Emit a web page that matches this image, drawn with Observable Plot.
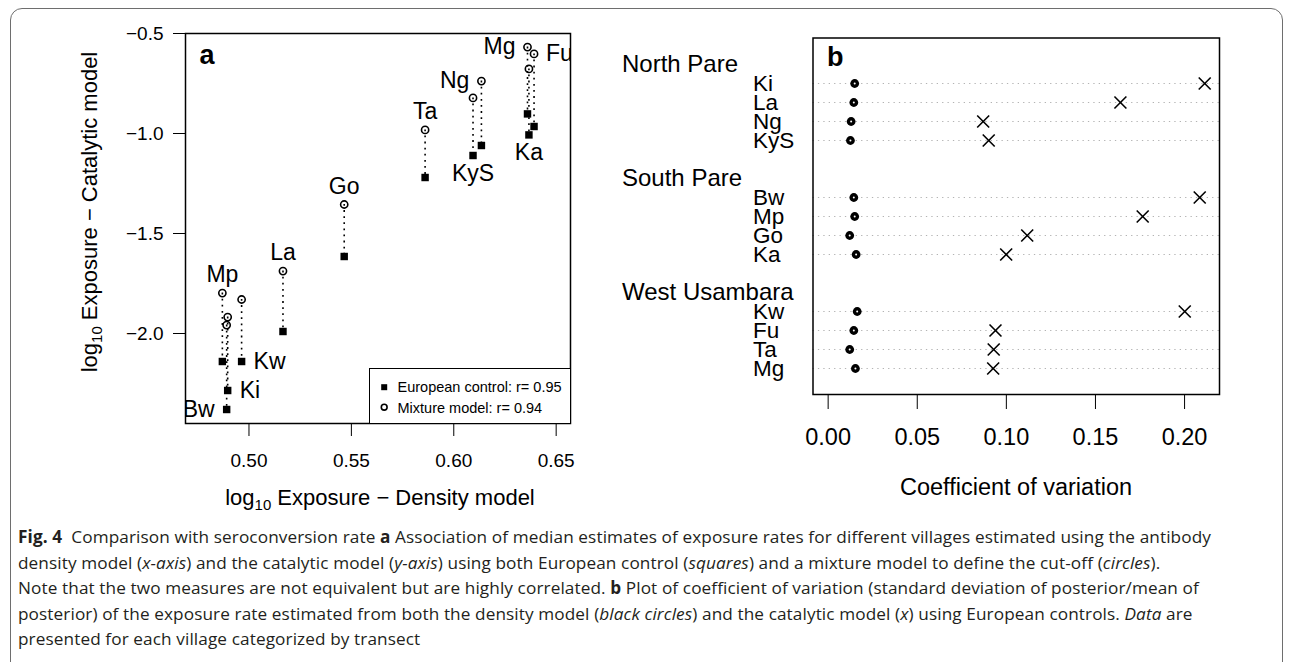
<!DOCTYPE html>
<html><head><meta charset="utf-8">
<script src="https://cdn.jsdelivr.net/npm/d3@7"></script>
<script src="https://cdn.jsdelivr.net/npm/@observablehq/plot@0.6"></script>
<style>
body{margin:0;background:#fff;}
#wrap{position:relative;width:1293px;height:662px;overflow:hidden;font-family:"Liberation Sans",Arial,sans-serif;color:#000;}
#border{position:absolute;left:10px;top:8px;width:1273px;height:760px;border:1.3px solid #6e6e6e;border-radius:12px;box-sizing:border-box;}
.abs{position:absolute;}
.title{position:absolute;white-space:nowrap;transform:translate(-50%,-50%);}
.title sub{font-size:0.68em;vertical-align:-0.35em;line-height:0;}
#legendA{box-sizing:border-box;border:1.5px solid #000;background:#fff;font-size:14.5px;}
#legendA .row{position:absolute;left:0;white-space:nowrap;height:20px;line-height:20px;}
#caption{position:absolute;left:18px;top:524px;width:1265px;font-family:"Open Sans","Noto Sans",sans-serif;font-size:17.2px;letter-spacing:0.1px;line-height:25.5px;color:#231f20;white-space:nowrap;}
</style></head>
<body>
<div id="wrap">
  <div id="border"></div>
  <div id="plotA" class="abs" style="left:0;top:0"></div>
  <div id="plotB" class="abs" style="left:600px;top:0"></div>
  <div id="legendA" class="abs" style="left:368.5px;top:367.5px;width:202px;height:56.5px"></div>
  <div class="title" style="left:90px;top:212px;font-size:22px;transform:translate(-50%,-50%) rotate(-90deg)">log<sub>10</sub> Exposure − Catalytic model</div>
  <div class="title" style="left:380px;top:498px;font-size:22px">log<sub>10</sub> Exposure − Density model</div>
  <div class="title" style="left:1016px;top:487px;font-size:23.5px">Coefficient of variation</div>
  <div id="caption"><b>Fig. 4</b>&nbsp; Comparison with seroconversion rate <b>a</b> Association of median estimates of exposure rates for different villages estimated using the antibody<br>density model (<i>x-axis</i>) and the catalytic model (<i>y-axis</i>) using both European control (<i>squares</i>) and a mixture model to define the cut-off (<i>circles</i>).<br>Note that the two measures are not equivalent but are highly correlated. <b>b</b> Plot of coefficient of variation (standard deviation of posterior/mean of<br>posterior) of the exposure rate estimated from both the density model (<i>black circles</i>) and the catalytic model (<i>x</i>) using European controls. <i>Data</i> are<br>presented for each village categorized by transect</div>
</div>
<script>
// ---------- Panel a data ----------
const villagesA = ["Mg","Fu","Ka","Ng","KyS","Ta","Go","La","Mp","Kw","Ki","Bw"];
const densityExposure = [0.636,0.6392,0.6367,0.6135,0.6094,0.586,0.5465,0.5166,0.487,0.4964,0.4896,0.4891];
const catalyticEuropean = [-0.902,-0.965,-1.007,-1.06,-1.11,-1.22,-1.615,-1.99,-2.14,-2.14,-2.285,-2.38];
const catalyticMixture = [-0.568,-0.602,-0.677,-0.738,-0.822,-0.982,-1.355,-1.688,-1.798,-1.83,-1.918,-1.958];
const labelSide = ["left","right","below","left","below","above","above","above","above","right","right","left"];
const labelAt = ["mixture","mixture","european","mixture","european","mixture","mixture","mixture","mixture","european","european","european"];
const xTicksA = [0.50,0.55,0.60,0.65];
const yTicksA = [-2.0,-1.5,-1.0,-0.5];
const legendLabelsA = ["European control: r= 0.95","Mixture model: r= 0.94"];

// ---------- Panel b data ----------
const transects = ["North Pare","South Pare","West Usambara"];
const villagesB = ["Ki","La","Ng","KyS","Bw","Mp","Go","Ka","Kw","Fu","Ta","Mg"];
const transectB = ["North Pare","North Pare","North Pare","North Pare","South Pare","South Pare","South Pare","South Pare","West Usambara","West Usambara","West Usambara","West Usambara"];
const cvDensity = [0.0149,0.0144,0.0129,0.0125,0.0144,0.0149,0.0121,0.0157,0.0163,0.0144,0.0121,0.0153];
const cvCatalytic = [0.2113,0.164,0.087,0.0901,0.2085,0.1765,0.1117,0.0999,0.2001,0.0939,0.0929,0.0926];
const xTicksB = [0.00,0.05,0.10,0.15,0.20];

const FONT = "Liberation Sans, Arial, sans-serif";

// ---------- Panel a ----------
const dataA = villagesA.map((v,i)=>({
  name:v, x:densityExposure[i], eur:catalyticEuropean[i], mix:catalyticMixture[i],
  side:labelSide[i], ly: labelAt[i]==="mixture" ? catalyticMixture[i] : catalyticEuropean[i]
}));
const lab = side => dataA.filter(d=>d.side===side);
const labelCommon = {x:"x", y:"ly", text:"name", fontSize:23, fill:"black", clip:true};

const plotA = Plot.plot({
  width:600, height:470,
  marginLeft:185, marginRight:30, marginTop:33, marginBottom:47,
  style:{fontFamily:FONT, fontSize:"19px", background:"transparent", color:"black"},
  x:{domain:[0.469,0.657], ticks:xTicksA, tickFormat:d3.format(".2f"), tickSize:13, tickPadding:17, label:null},
  y:{domain:[-2.45,-0.5], ticks:yTicksA, tickFormat:d3.format(".1f"), tickSize:12, tickPadding:10, label:null},
  marks:[
    Plot.ruleX(dataA,{x:"x", y1:"mix", y2:"eur", stroke:"black", strokeWidth:1.6, strokeDasharray:"1.8,4.3"}),
    Plot.dot(dataA,{x:"x", y:"eur", symbol:"square", r:4.2, fill:"black"}),
    Plot.dot(dataA,{x:"x", y:"mix", r:3.6, stroke:"black", strokeWidth:1.6, fill:"none"}),
    Plot.text(lab("left"),{...labelCommon, textAnchor:"end", dx:-12}),
    Plot.text(lab("right"),{...labelCommon, textAnchor:"start", dx:12}),
    Plot.text(lab("above"),{...labelCommon, textAnchor:"middle", lineAnchor:"bottom", dy:-11}),
    Plot.text(lab("below"),{...labelCommon, textAnchor:"middle", lineAnchor:"top", dy:9}),
    Plot.text(["a"],{frameAnchor:"top-left", text:d=>d, dx:14, dy:21.7, lineAnchor:"middle", textAnchor:"start", fontSize:27, fontWeight:"bold"}),
    Plot.frame({stroke:"black", strokeWidth:1.5})
  ]
});
document.getElementById("plotA").append(plotA);

// legend for panel a
const legend = document.getElementById("legendA");
legendLabelsA.forEach((t,i)=>{
  const row = document.createElement("div");
  row.className = "row";
  row.style.top = (i===0 ? 8.5 : 29) + "px";
  const sym = i===0
    ? '<rect x="3.2" y="3.2" width="6" height="6" fill="#000"/>'
    : '<circle cx="6.2" cy="6.2" r="2.9" fill="none" stroke="#000" stroke-width="1.6"/>';
  row.innerHTML = `<svg width="12.4" height="12.4" style="position:absolute;left:8.6px;top:3.8px">${sym}</svg><span style="position:absolute;left:28px">${t}</span>`;
  legend.append(row);
});

// ---------- Panel b ----------
const rowKeys = [];
const headerRows = [];
transects.forEach((g,i)=>{
  if (i>0) rowKeys.push("gap"+i);
  rowKeys.push("hdr:"+g);
  headerRows.push({key:"hdr:"+g, name:g});
  villagesB.forEach((v,j)=>{ if (transectB[j]===g) rowKeys.push("v:"+v); });
});
const dataB = villagesB.map((v,i)=>({key:"v:"+v, name:v, dens:cvDensity[i], cat:cvCatalytic[i]}));

const plotB = Plot.plot({
  width:690, height:470,
  marginLeft:212.5, marginRight:71, marginTop:37.5, marginBottom:76,
  style:{fontFamily:FONT, fontSize:"23.5px", background:"transparent", color:"black"},
  x:{domain:[-0.0085,0.2196], ticks:xTicksB, tickFormat:d3.format(".2f"), tickSize:15, tickPadding:19, label:null},
  y:{type:"point", domain:rowKeys, padding:1, axis:null},
  marks:[
    Plot.ruleY(dataB,{y:"key", stroke:"#b3b3b3", strokeWidth:1.2, strokeDasharray:"1.3,4.1"}),
    Plot.dot(dataB,{x:"dens", y:"key", r:4.4, fill:"black"}),
    Plot.dot(dataB,{x:"dens", y:"key", r:1, fill:"white"}),
    Plot.dot(dataB,{x:"cat", y:"key", symbol:"times", r:5.5, stroke:"black", strokeWidth:1.6}),
    Plot.text(dataB,{y:"key", text:"name", frameAnchor:"left", dx:-60, textAnchor:"start", fontSize:22.5}),
    Plot.text(headerRows,{y:"key", text:"name", frameAnchor:"left", dx:-191, textAnchor:"start", fontSize:24}),
    Plot.text(["b"],{frameAnchor:"top-left", text:d=>d, dx:14, dy:18.9, lineAnchor:"middle", textAnchor:"start", fontSize:27, fontWeight:"bold"}),
    Plot.frame({stroke:"black", strokeWidth:1.5})
  ]
});
document.getElementById("plotB").append(plotB);
</script>
</body></html>
